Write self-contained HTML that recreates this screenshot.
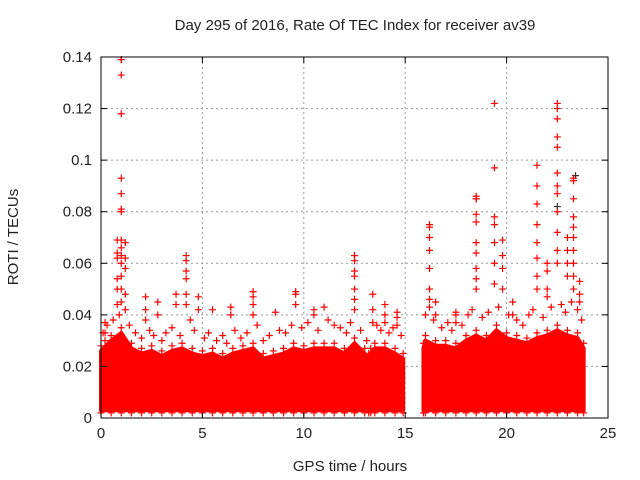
<!DOCTYPE html>
<html><head><meta charset="utf-8"><style>
body{margin:0;background:#fff;}
svg{display:block;font-family:"Liberation Sans","DejaVu Sans",sans-serif;}
</style></head><body>
<svg id="chart" width="640" height="480">
<text x="355" y="30" text-anchor="middle" font-size="15" fill="#222">Day 295 of 2016, Rate Of TEC Index for receiver av39</text>
<text x="350" y="471" text-anchor="middle" font-size="15" fill="#222">GPS time / hours</text>
<text transform="translate(18,237) rotate(-90)" text-anchor="middle" font-size="15" fill="#222">ROTI / TECUs</text>
<g id="grid"></g><g id="band"></g><g id="pts"></g><g id="axes"></g>
</svg>
<script>
const xTicks=[0,5,10,15,20,25];
const yTicks=[0,0.02,0.04,0.06,0.08,0.1,0.12,0.14];
const yTickLabels=["0","0.02","0.04","0.06","0.08","0.1","0.12","0.14"];
const bandSeg1Time=[0,0.5,1,1.5,2,2.5,3,3.5,4,4.5,5,5.5,6,6.5,7,7.5,8,8.5,9,9.5,10,10.5,11,11.5,12,12.5,13,13.2];
const bandSeg1High=[0.026,0.03,0.033,0.027,0.025,0.026,0.024,0.026,0.027,0.025,0.024,0.025,0.023,0.025,0.026,0.027,0.023,0.024,0.025,0.027,0.026,0.027,0.027,0.027,0.025,0.029,0.025,0.023];
const bandSeg2Time=[13.3,13.5,14,14.5,14.9];
const bandSeg2High=[0.025,0.027,0.027,0.025,0.023];
const bandSeg3Time=[15.9,16,16.5,17,17.5,18,18.5,19,19.5,20,20.5,21,21.5,22,22.5,23,23.5,23.8];
const bandSeg3High=[0.027,0.03,0.028,0.028,0.027,0.03,0.032,0.03,0.034,0.031,0.03,0.029,0.031,0.032,0.034,0.032,0.031,0.027];
const bandLow=0.003;
const midTime=[0.1,0.3,0.6,0.9,1.4,1.7,2.0,2.4,2.6,3.0,3.2,3.5,3.9,4.4,4.6,5.1,5.3,5.7,6.0,6.2,6.6,6.9,7.2,7.7,8.0,8.3,8.8,9.1,9.4,9.9,10.2,10.7,11.2,11.5,11.8,12.1,12.3,12.8,13.1,13.6,13.8,14.2,14.4,14.8,16.0,16.4,16.8,17.1,17.3,17.8,18.1,18.3,18.8,19.1,19.6,20.1,20.5,20.8,21.1,21.3,21.8,22.2,22.7,22.9,23.2,23.5,23.7];
const midValue=[0.033,0.036,0.038,0.04,0.036,0.033,0.031,0.034,0.032,0.03,0.033,0.035,0.032,0.038,0.034,0.031,0.033,0.03,0.032,0.029,0.034,0.031,0.033,0.036,0.03,0.032,0.034,0.033,0.036,0.035,0.037,0.034,0.038,0.036,0.035,0.033,0.037,0.034,0.03,0.036,0.034,0.033,0.035,0.032,0.04,0.038,0.035,0.037,0.034,0.036,0.04,0.042,0.039,0.041,0.043,0.04,0.038,0.036,0.04,0.042,0.039,0.043,0.044,0.041,0.045,0.042,0.038];
const outTime=[1,1,1,1,1,1,1,1,1,1,1,1,1,1,0.8,0.8,0.8,0.8,0.8,0.8,0.2,0.2,0.2,1.2,1.2,1.2,1.2,1.2,2.2,2.2,2.2,2.8,2.8,3.7,3.7,4.2,4.2,4.2,4.2,4.2,4.2,4.8,4.8,5.5,6.4,6.4,7.5,7.5,7.5,7.5,8.6,9.6,9.6,9.6,10.5,10.5,11,12.5,12.5,12.5,12.5,12.5,12.5,12.5,13.4,13.4,13.4,14,14,14,14.6,14.6,14.6,16.2,16.2,16.2,16.2,16.2,16.2,16.2,16.2,16.5,16.5,17.5,17.5,17.5,18.5,18.5,18.5,18.5,18.5,18.5,18.5,18.5,18.5,19.4,19.4,19.4,19.4,19.4,19.4,19.4,19.8,19.8,19.8,19.8,20.3,20.3,21.5,21.5,21.5,21.5,21.5,21.5,21.5,21.5,22,22,22,22,22.5,22.5,22.5,22.5,22.5,22.5,22.5,22.5,22.5,22.5,22.5,22.5,23,23,23,23,23.3,23.3,23.3,23.3,23.3,23.3,23.3,23.3,23.3,23.3,23.6,23.6,23.6];
const outValue=[0.139,0.133,0.118,0.093,0.087,0.081,0.08,0.069,0.066,0.063,0.06,0.055,0.05,0.045,0.069,0.064,0.062,0.054,0.05,0.044,0.037,0.033,0.03,0.068,0.062,0.058,0.048,0.042,0.047,0.042,0.038,0.045,0.04,0.048,0.044,0.063,0.061,0.057,0.054,0.048,0.044,0.047,0.042,0.042,0.043,0.04,0.049,0.047,0.044,0.04,0.041,0.049,0.048,0.044,0.042,0.04,0.043,0.063,0.061,0.057,0.055,0.05,0.046,0.042,0.048,0.042,0.037,0.044,0.04,0.037,0.041,0.039,0.036,0.075,0.074,0.07,0.065,0.058,0.05,0.046,0.043,0.045,0.04,0.041,0.04,0.037,0.086,0.085,0.079,0.076,0.068,0.064,0.058,0.054,0.05,0.122,0.097,0.078,0.075,0.068,0.06,0.052,0.069,0.063,0.058,0.05,0.045,0.04,0.098,0.09,0.083,0.075,0.068,0.062,0.055,0.05,0.06,0.057,0.05,0.047,0.122,0.12,0.116,0.109,0.105,0.095,0.09,0.087,0.08,0.072,0.065,0.06,0.07,0.065,0.06,0.055,0.093,0.092,0.085,0.078,0.074,0.07,0.065,0.06,0.055,0.05,0.053,0.048,0.045];
const darkTime=[1,12.5,18.5,22.5,23.4];
const darkValue=[0.139,0.063,0.085,0.082,0.094];

const L=101,R=608,T=57,B=418;
const xs=h=>L+h/25*(R-L);
const ys=v=>B-v/0.14*(B-T);
const NS="http://www.w3.org/2000/svg";
function mk(tag,attrs,parent){const e=document.createElementNS(NS,tag);for(const k in attrs)e.setAttribute(k,attrs[k]);parent.appendChild(e);return e;}
const grid=document.getElementById('grid'),axes=document.getElementById('axes'),band=document.getElementById('band'),pts=document.getElementById('pts');
xTicks.forEach((t,i)=>{
 const x=xs(t);
 if(i>0&&i<xTicks.length-1){const g=mk('line',{x1:x,x2:x,y1:T,y2:B,stroke:'#999','stroke-dasharray':'2,3'},grid);
 
 }
 mk('line',{x1:x,x2:x,y1:B,y2:B-6,stroke:'#000'},axes);
 mk('line',{x1:x,x2:x,y1:T,y2:T+6,stroke:'#000'},axes);
 const tx=mk('text',{x:x,y:B+20,'text-anchor':'middle','font-size':15,fill:'#222'},axes);
 tx.textContent=t;
 
 
});
yTicks.forEach((t,i)=>{
 const y=ys(t);
 if(i>0&&i<yTicks.length-1){const g=mk('line',{x1:L,x2:R,y1:y,y2:y,stroke:'#999','stroke-dasharray':'2,3'},grid);
 
 }
 mk('line',{x1:L,x2:L+6,y1:y,y2:y,stroke:'#000'},axes);
 mk('line',{x1:R,x2:R-6,y1:y,y2:y,stroke:'#000'},axes);
 const tx=mk('text',{x:L-9,y:y+5,'text-anchor':'end','font-size':15,fill:'#222'},axes);
 tx.textContent=yTickLabels[i];
 
 
});
const fr=mk('rect',{x:L,y:T,width:R-L,height:B-T,fill:'none',stroke:'#000'},axes);


function cross(h,v,col,name){
 const x=xs(h),y=ys(v);
 const p=mk('path',{d:`M${x-3.5},${y}H${x+3.5}M${x},${y-3.5}V${y+3.5}`,stroke:col,'stroke-width':1.2},pts);
 
 
}
[[bandSeg1Time,bandSeg1High],[bandSeg2Time,bandSeg2High],[bandSeg3Time,bandSeg3High]].forEach(([tt,hh])=>{
 let d='M'+xs(tt[0])+','+ys(bandLow);
 tt.forEach((t,i)=>{d+='L'+xs(t)+','+ys(hh[i]);});
 d+='L'+xs(tt[tt.length-1])+','+ys(bandLow)+'Z';
 const p=mk('path',{d:d,fill:'#ff0000',stroke:'#ff0000','stroke-width':4,'stroke-linejoin':'round'},band);
 
 
 tt.forEach((t,i)=>{cross(t,hh[i]+0.002,'#ff0000','roti-point');cross(t,bandLow-0.001,'#ff0000','roti-point');});
});
midTime.forEach((t,i)=>cross(t,midValue[i],'#ff0000','roti-point'));
darkTime.forEach((t,i)=>cross(t,darkValue[i],'#333','roti-point-dark'));
outTime.forEach((t,i)=>cross(t,outValue[i],'#ff0000','roti-point'));
</script>
</body></html>
